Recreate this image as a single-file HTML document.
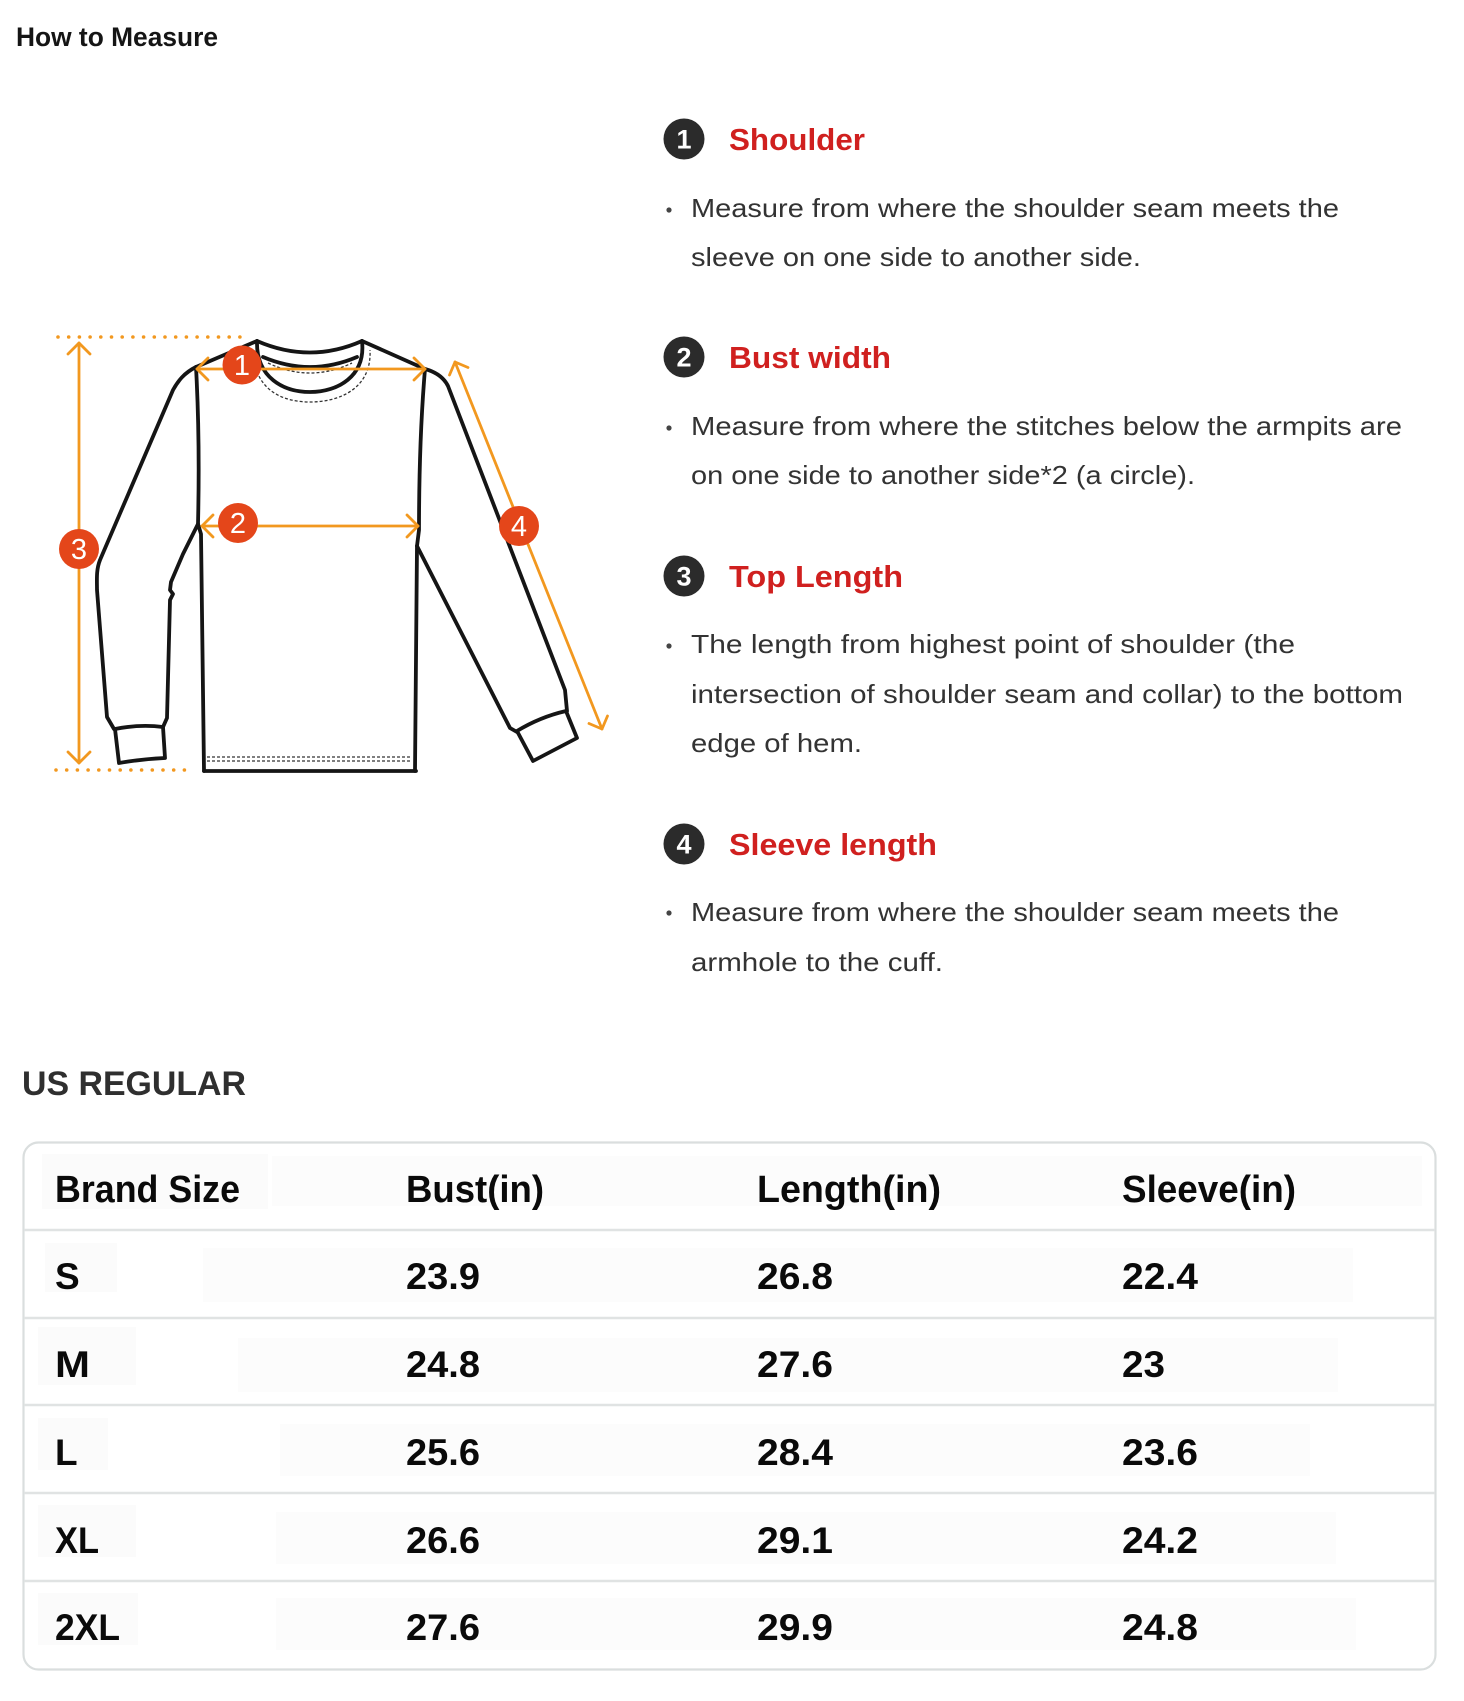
<!DOCTYPE html>
<html>
<head>
<meta charset="utf-8">
<style>
  html, body { margin: 0; padding: 0; background: #ffffff; }
  svg { display: block; }
  .sans { font-family: "Liberation Sans", Arial, sans-serif; }
</style>
</head>
<body>
<svg width="1464" height="1701" viewBox="0 0 1464 1701" xmlns="http://www.w3.org/2000/svg" class="sans">
  <rect x="0" y="0" width="1464" height="1701" fill="#ffffff"/>

  <!-- Title -->
  <text x="16" y="46" font-size="27" font-weight="bold" fill="#151515" textLength="202" lengthAdjust="spacingAndGlyphs">How to Measure</text>

  <!-- ================= SHIRT ILLUSTRATION ================= -->
  <g fill="none" stroke="#151515" stroke-width="3.8" stroke-linecap="round" stroke-linejoin="round">
    <path d="M257,341 L196,367"/>
    <path d="M362,341 L425,369"/>
    <path d="M257,341 Q310,364 362,341"/>
    <path d="M263,357 Q310,377 357,357"/>
    <path d="M257,341 C256,378 284,392 310,392 C338,392 366,376 362,341"/>
    <path d="M196,367 Q200,440 198,524 L201,534 L204,771"/>
    <path d="M204,771 L416,771"/>
    <path d="M425,369 Q419,440 419,530 L417,546 L415,771"/>
    <path d="M196,367 C184,373 178,381 173,390 L100,560 C96,570 97,580 97,590 L107,717 L114,729"/>
    <path d="M198,524 L183,554 L171,582 L170,590 L173,594 L170,600 L167,718 L163,727"/>
    <path d="M115,729 Q140,724 163,727 L165,758 Q142,759 119,763 Z"/>
    <path d="M425,369 C436,372 444,378 448,386 L565,690 L567,711"/>
    <path d="M417,546 L510,728 L517,732"/>
    <path d="M517,731 Q540,717 566,711 L577,738 L533,761 Z"/>
  </g>
  <g fill="none" stroke="#333" stroke-width="1.3" stroke-dasharray="3 2">
    <path d="M253,352 C255,390 282,402 310,402 C340,402 372,388 370,350"/>
    <path d="M268,363 Q310,383 352,363"/>
    <path d="M207,757 L412,757"/>
    <path d="M207,761 L412,761"/>
  </g>

  <!-- orange measurement lines -->
  <g fill="none" stroke="#f2981f" stroke-width="2.8" stroke-linecap="round" stroke-linejoin="round">
    <path d="M58,337 L246,337" stroke-dasharray="0 10.7" stroke-width="3.6"/>
    <path d="M56,770 L194,770" stroke-dasharray="0 10.7" stroke-width="3.6"/>
    <path d="M79,343 L79,763"/>
    <path d="M68,354 L79,343 L90,354"/>
    <path d="M68,752 L79,763 L90,752"/>
    <path d="M197,369 L425,369"/>
    <path d="M208,358 L197,369 L208,380"/>
    <path d="M414,358 L425,369 L414,380"/>
    <path d="M202,526 L418,526"/>
    <path d="M213,515 L202,526 L213,537"/>
    <path d="M407,515 L418,526 L407,537"/>
    <path d="M455,362 L602,729"/>
    <path d="M449.5,375 L455,362 L468,367.5"/>
    <path d="M607.5,716 L602,729 L589,723.5"/>
  </g>

  <!-- red badges -->
  <g fill="#e4461a">
    <circle cx="242" cy="365" r="19.5"/>
    <circle cx="238" cy="523" r="20"/>
    <circle cx="79" cy="549" r="20"/>
    <circle cx="519" cy="526" r="20"/>
  </g>
  <g fill="#ffffff" font-size="29" text-anchor="middle">
    <text x="242" y="375">1</text>
    <text x="238" y="533">2</text>
    <text x="79" y="559">3</text>
    <text x="519" y="536">4</text>
  </g>

  <!-- ================= RIGHT TEXT ================= -->
  <g fill="#2b2b2b">
    <circle cx="684" cy="139" r="20.5"/>
    <circle cx="684" cy="357" r="20.5"/>
    <circle cx="684" cy="576" r="20.5"/>
    <circle cx="684" cy="844" r="20.5"/>
  </g>
  <g fill="#ffffff" font-size="27" font-weight="bold" text-anchor="middle">
    <text x="684" y="148.5">1</text>
    <text x="684" y="366.5">2</text>
    <text x="684" y="585.5">3</text>
    <text x="684" y="853.5">4</text>
  </g>

  <g fill="#d0201f" font-size="31" font-weight="bold">
    <text x="729" y="150" textLength="136" lengthAdjust="spacingAndGlyphs">Shoulder</text>
    <text x="729" y="368" textLength="162" lengthAdjust="spacingAndGlyphs">Bust width</text>
    <text x="729" y="587" textLength="174" lengthAdjust="spacingAndGlyphs">Top Length</text>
    <text x="729" y="855" textLength="208" lengthAdjust="spacingAndGlyphs">Sleeve length</text>
  </g>

  <g fill="#444">
    <circle cx="669" cy="210" r="2.6"/>
    <circle cx="669" cy="428" r="2.6"/>
    <circle cx="669" cy="646" r="2.6"/>
    <circle cx="669" cy="913" r="2.6"/>
  </g>

  <g fill="#333333" font-size="26" style="white-space:pre">
    <text x="691" y="217" textLength="648" lengthAdjust="spacingAndGlyphs">Measure from where the shoulder seam meets the</text>
    <text x="691" y="266" textLength="450" lengthAdjust="spacingAndGlyphs">sleeve on one side to another side.</text>

    <text x="691" y="435" textLength="711" lengthAdjust="spacingAndGlyphs">Measure from where the stitches below the armpits are</text>
    <text x="691" y="484" textLength="504" lengthAdjust="spacingAndGlyphs">on one side to another side*2 (a circle).</text>

    <text x="691" y="653" textLength="604" lengthAdjust="spacingAndGlyphs">The length from highest point of shoulder  (the</text>
    <text x="691" y="703" textLength="712" lengthAdjust="spacingAndGlyphs">intersection of shoulder seam and collar) to the bottom</text>
    <text x="691" y="752" textLength="171" lengthAdjust="spacingAndGlyphs">edge of hem.</text>

    <text x="691" y="921" textLength="648" lengthAdjust="spacingAndGlyphs">Measure from where the shoulder seam meets the</text>
    <text x="691" y="971" textLength="252" lengthAdjust="spacingAndGlyphs">armhole to the cuff.</text>
  </g>

  <!-- ================= US REGULAR ================= -->
  <text x="22" y="1095" font-size="34" font-weight="bold" fill="#2f2f2f" textLength="224" lengthAdjust="spacingAndGlyphs">US REGULAR</text>

  <rect x="23.5" y="1142.5" width="1412" height="527" rx="15" ry="15" fill="#ffffff" stroke="#dadede" stroke-width="2.2"/>
  <g fill="#fbfbfb">
    <rect x="42" y="1154" width="226" height="55"/>
    <rect x="272" y="1156" width="1150" height="50" fill="#fcfcfc"/>
    <rect x="45" y="1243" width="72" height="49"/>
    <rect x="203" y="1248" width="1150" height="54" fill="#fcfcfc"/>
    <rect x="38" y="1327" width="98" height="58"/>
    <rect x="238" y="1338" width="1100" height="54" fill="#fcfcfc"/>
    <rect x="38" y="1418" width="70" height="52"/>
    <rect x="280" y="1424" width="1030" height="52" fill="#fcfcfc"/>
    <rect x="38" y="1505" width="98" height="52"/>
    <rect x="276" y="1512" width="1060" height="52" fill="#fcfcfc"/>
    <rect x="38" y="1593" width="100" height="52"/>
    <rect x="276" y="1598" width="1080" height="52" fill="#fcfcfc"/>
  </g>
  <g stroke="#e0e3e3" stroke-width="2.4">
    <line x1="24" y1="1230" x2="1435" y2="1230"/>
    <line x1="24" y1="1318" x2="1435" y2="1318"/>
    <line x1="24" y1="1405" x2="1435" y2="1405"/>
    <line x1="24" y1="1493" x2="1435" y2="1493"/>
    <line x1="24" y1="1581" x2="1435" y2="1581"/>
  </g>

  <g fill="#0a0a0a" font-size="38" font-weight="bold">
    <text x="55" y="1202" textLength="185" lengthAdjust="spacingAndGlyphs">Brand Size</text>
    <text x="406" y="1202" textLength="138" lengthAdjust="spacingAndGlyphs">Bust(in)</text>
    <text x="757" y="1202" textLength="184" lengthAdjust="spacingAndGlyphs">Length(in)</text>
    <text x="1122" y="1202" textLength="174" lengthAdjust="spacingAndGlyphs">Sleeve(in)</text>
  </g>

  <g fill="#0a0a0a" font-size="37" font-weight="bold">
    <text x="55" y="1289">S</text>
    <text x="406" y="1289" textLength="74" lengthAdjust="spacingAndGlyphs">23.9</text>
    <text x="757" y="1289" textLength="76" lengthAdjust="spacingAndGlyphs">26.8</text>
    <text x="1122" y="1289" textLength="76" lengthAdjust="spacingAndGlyphs">22.4</text>

    <text x="55" y="1377" textLength="35" lengthAdjust="spacingAndGlyphs">M</text>
    <text x="406" y="1377" textLength="74" lengthAdjust="spacingAndGlyphs">24.8</text>
    <text x="757" y="1377" textLength="76" lengthAdjust="spacingAndGlyphs">27.6</text>
    <text x="1122" y="1377" textLength="43" lengthAdjust="spacingAndGlyphs">23</text>

    <text x="55" y="1465">L</text>
    <text x="406" y="1465" textLength="74" lengthAdjust="spacingAndGlyphs">25.6</text>
    <text x="757" y="1465" textLength="76" lengthAdjust="spacingAndGlyphs">28.4</text>
    <text x="1122" y="1465" textLength="76" lengthAdjust="spacingAndGlyphs">23.6</text>

    <text x="55" y="1553" textLength="44" lengthAdjust="spacingAndGlyphs">XL</text>
    <text x="406" y="1553" textLength="74" lengthAdjust="spacingAndGlyphs">26.6</text>
    <text x="757" y="1553" textLength="76" lengthAdjust="spacingAndGlyphs">29.1</text>
    <text x="1122" y="1553" textLength="76" lengthAdjust="spacingAndGlyphs">24.2</text>

    <text x="55" y="1640" textLength="65" lengthAdjust="spacingAndGlyphs">2XL</text>
    <text x="406" y="1640" textLength="74" lengthAdjust="spacingAndGlyphs">27.6</text>
    <text x="757" y="1640" textLength="76" lengthAdjust="spacingAndGlyphs">29.9</text>
    <text x="1122" y="1640" textLength="76" lengthAdjust="spacingAndGlyphs">24.8</text>
  </g>
</svg>
</body>
</html>
